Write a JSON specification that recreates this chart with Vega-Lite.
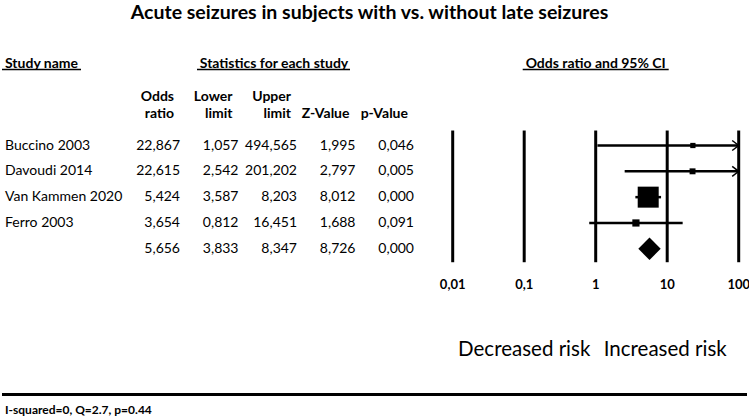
{
  "$schema": "https://vega.github.io/schema/vega-lite/v6.json",
  "width": 749,
  "height": 418,
  "autosize": {"type": "fit", "contains": "padding"},
  "padding": {"top": 2, "left": 0, "right": 0, "bottom": 0},
  "title": {"text": "Acute seizures in subjects with vs. without late seizures", "font": "Lato", "fontSize": 19.5, "fontWeight": "bold", "color": "black", "anchor": "middle", "frame": "group", "dx": -5, "offset": 4},
  "config": {
    "view": {"stroke": null},
    "font": "Lato",
    "locale": {"number": {"decimal": ",", "thousands": ".", "grouping": [3], "currency": ["", ""]}}
  },
  "datasets": {
    "studies": [
      {"study": "Buccino 2003", "kind": "study", "row": 1, "OR": 22.867, "lower": 1.057, "upper": 494.565, "z": 1.995, "p": 0.046, "weight": 1.6},
      {"study": "Davoudi 2014", "kind": "study", "row": 2, "OR": 22.615, "lower": 2.542, "upper": 201.202, "z": 2.797, "p": 0.005, "weight": 3.2},
      {"study": "Van Kammen 2020", "kind": "study", "row": 3, "OR": 5.424, "lower": 3.587, "upper": 8.203, "z": 8.012, "p": 0.0, "weight": 88.5},
      {"study": "Ferro 2003", "kind": "study", "row": 4, "OR": 3.654, "lower": 0.812, "upper": 16.451, "z": 1.688, "p": 0.091, "weight": 6.7},
      {"study": "", "kind": "summary", "row": 5, "OR": 5.656, "lower": 3.833, "upper": 8.347, "z": 8.726, "p": 0.0, "weight": 100}
    ],
    "columns": [
      {"key": "OR", "line1": "Odds", "line2": "ratio"},
      {"key": "lower", "line1": "Lower", "line2": "limit"},
      {"key": "upper", "line1": "Upper", "line2": "limit"},
      {"key": "z", "line1": "", "line2": "Z-Value"},
      {"key": "p", "line1": "", "line2": "p-Value"}
    ],
    "ticks": [{"v": 0.01}, {"v": 0.1}, {"v": 1}, {"v": 10}, {"v": 100}]
  },
  "resolve": {"scale": {"x": "independent"}},
  "layer": [
    {
      "layer": [
        {
          "data": {"name": "studies"},
          "transform": [{"filter": "datum.kind == 'study'"}],
          "mark": {"type": "text", "align": "left", "baseline": "middle", "fontSize": 14, "color": "black"},
          "encoding": {
            "x": {"datum": "Study name", "type": "nominal", "scale": {"type": "point", "domain": ["Study name"], "range": [3, 3], "padding": 0}, "axis": null},
            "y": {"field": "row", "type": "quantitative", "scale": {"domain": [1, 5], "range": [118.5, 221.8]}, "axis": null},
            "text": {"field": "study"}
          }
        },
        {
          "data": {"values": [{"label": "Study name"}]},
          "mark": {"type": "text", "align": "left", "baseline": "middle", "fontSize": 14, "fontWeight": "bold", "color": "black"},
          "encoding": {
            "x": {"datum": "Study name", "type": "nominal"},
            "y": {"datum": -2.175, "type": "quantitative", "scale": {"domain": [1, 5], "range": [118.5, 221.8]}, "axis": null},
            "text": {"field": "label"}
          }
        },
        {
          "data": {"values": [{"label": "Study name"}]},
          "mark": {"type": "rule", "strokeWidth": 1.5, "color": "black", "xOffset": -3, "x2Offset": 76},
          "encoding": {
            "x": {"datum": "Study name", "type": "nominal"},
            "x2": {"datum": "Study name"},
            "y": {"datum": -1.943, "type": "quantitative", "scale": {"domain": [1, 5], "range": [118.5, 221.8]}, "axis": null}
          }
        },
        {
          "data": {"values": [{"label": "I-squared=0, Q=2.7, p=0.44"}]},
          "mark": {"type": "text", "align": "left", "baseline": "middle", "fontSize": 12, "fontWeight": "bold", "color": "black"},
          "encoding": {
            "x": {"datum": "Study name", "type": "nominal"},
            "y": {"datum": 11.26, "type": "quantitative", "scale": {"domain": [1, 5], "range": [118.5, 221.8]}, "axis": null},
            "text": {"field": "label"}
          }
        }
      ]
    },
    {
      "layer": [
        {
          "data": {"name": "studies"},
          "transform": [{"fold": ["OR", "lower", "upper", "z", "p"], "as": ["key", "value"]}],
          "mark": {"type": "text", "align": "right", "baseline": "middle", "fontSize": 14, "color": "black"},
          "encoding": {
            "x": {"field": "key", "type": "nominal", "scale": {"type": "point", "domain": ["OR", "lower", "upper", "z", "p"], "range": [178, 412], "padding": 0}, "axis": null},
            "y": {"field": "row", "type": "quantitative", "scale": {"domain": [1, 5], "range": [118.5, 221.8]}, "axis": null},
            "text": {"field": "value", "type": "quantitative", "format": ".3f"}
          }
        },
        {
          "data": {"name": "columns"},
          "mark": {"type": "text", "align": "right", "baseline": "middle", "fontSize": 14, "fontWeight": "bold", "color": "black", "dx": -6},
          "encoding": {
            "x": {"field": "key", "type": "nominal"},
            "y": {"datum": -0.897, "type": "quantitative", "scale": {"domain": [1, 5], "range": [118.5, 221.8]}, "axis": null},
            "text": {"field": "line1"}
          }
        },
        {
          "data": {"name": "columns"},
          "mark": {"type": "text", "align": "right", "baseline": "middle", "fontSize": 14, "fontWeight": "bold", "color": "black", "dx": -6},
          "encoding": {
            "x": {"field": "key", "type": "nominal"},
            "y": {"datum": -0.239, "type": "quantitative", "scale": {"domain": [1, 5], "range": [118.5, 221.8]}, "axis": null},
            "text": {"field": "line2"}
          }
        },
        {
          "data": {"values": [{"label": "Statistics for each study"}]},
          "mark": {"type": "text", "align": "center", "baseline": "middle", "fontSize": 14, "fontWeight": "bold", "color": "black", "dx": -23},
          "encoding": {
            "x": {"datum": "upper", "type": "nominal"},
            "y": {"datum": -2.175, "type": "quantitative", "scale": {"domain": [1, 5], "range": [118.5, 221.8]}, "axis": null},
            "text": {"field": "label"}
          }
        },
        {
          "data": {"values": [{"label": "Statistics for each study"}]},
          "mark": {"type": "rule", "strokeWidth": 1.5, "color": "black", "xOffset": -100, "x2Offset": 53},
          "encoding": {
            "x": {"datum": "upper", "type": "nominal"},
            "x2": {"datum": "upper"},
            "y": {"datum": -1.943, "type": "quantitative", "scale": {"domain": [1, 5], "range": [118.5, 221.8]}, "axis": null}
          }
        }
      ]
    },
    {
      "layer": [
        {
          "data": {"name": "ticks"},
          "mark": {"type": "rule", "strokeWidth": 3, "color": "black"},
          "encoding": {
            "x": {"field": "v", "type": "quantitative", "scale": {"type": "log", "domain": [0.01, 100], "range": [450.7, 736.7], "clamp": true}, "axis": null},
            "y": {"datum": 0.42, "type": "quantitative", "scale": {"domain": [1, 5], "range": [118.5, 221.8]}, "axis": null},
            "y2": {"datum": 5.52}
          }
        },
        {
          "data": {"name": "ticks"},
          "mark": {"type": "text", "align": "center", "baseline": "middle", "fontSize": 13, "fontWeight": "bold", "color": "black"},
          "encoding": {
            "x": {"field": "v", "type": "quantitative"},
            "y": {"datum": 6.42, "type": "quantitative", "scale": {"domain": [1, 5], "range": [118.5, 221.8]}, "axis": null},
            "text": {"field": "v", "type": "quantitative", "format": "~g"}
          }
        },
        {
          "data": {"name": "studies"},
          "transform": [{"filter": "datum.kind == 'study'"}],
          "mark": {"type": "rule", "strokeWidth": 2.5, "color": "black"},
          "encoding": {
            "x": {"field": "lower", "type": "quantitative"},
            "x2": {"field": "upper"},
            "y": {"field": "row", "type": "quantitative", "scale": {"domain": [1, 5], "range": [118.5, 221.8]}, "axis": null}
          }
        },
        {
          "data": {"name": "studies"},
          "transform": [{"filter": "datum.kind == 'study'"}],
          "mark": {"type": "square", "filled": true, "opacity": 1, "color": "black"},
          "encoding": {
            "x": {"field": "OR", "type": "quantitative"},
            "y": {"field": "row", "type": "quantitative", "scale": {"domain": [1, 5], "range": [118.5, 221.8]}, "axis": null},
            "size": {"field": "weight", "type": "quantitative", "scale": {"domain": [0, 88.5], "range": [20, 441]}, "legend": null}
          }
        },
        {
          "data": {"name": "studies"},
          "transform": [{"filter": "datum.upper > 100"}],
          "mark": {"type": "point", "shape": "M-1.3,-1L0,0L-1.3,1", "filled": false, "size": 100, "stroke": "black", "strokeWidth": 1.5, "opacity": 1},
          "encoding": {
            "x": {"field": "upper", "type": "quantitative"},
            "y": {"field": "row", "type": "quantitative", "scale": {"domain": [1, 5], "range": [118.5, 221.8]}, "axis": null}
          }
        },
        {
          "data": {"name": "studies"},
          "transform": [{"filter": "datum.kind == 'summary'"}],
          "mark": {"type": "point", "shape": "diamond", "filled": true, "size": 500, "color": "black", "opacity": 1},
          "encoding": {
            "x": {"field": "OR", "type": "quantitative"},
            "y": {"field": "row", "type": "quantitative", "scale": {"domain": [1, 5], "range": [118.5, 221.8]}, "axis": null}
          }
        },
        {
          "data": {"values": [{"label": "Odds ratio and 95% CI"}]},
          "mark": {"type": "text", "align": "center", "baseline": "middle", "fontSize": 14, "fontWeight": "bold", "color": "black"},
          "encoding": {
            "x": {"datum": 1, "type": "quantitative"},
            "y": {"datum": -2.175, "type": "quantitative", "scale": {"domain": [1, 5], "range": [118.5, 221.8]}, "axis": null},
            "text": {"field": "label"}
          }
        },
        {
          "data": {"values": [{"label": "Odds ratio and 95% CI"}]},
          "mark": {"type": "rule", "strokeWidth": 1.5, "color": "black", "xOffset": -73, "x2Offset": 73},
          "encoding": {
            "x": {"datum": 1, "type": "quantitative"},
            "x2": {"datum": 1},
            "y": {"datum": -1.943, "type": "quantitative", "scale": {"domain": [1, 5], "range": [118.5, 221.8]}, "axis": null}
          }
        },
        {
          "data": {"values": [{"label": "Decreased risk"}]},
          "mark": {"type": "text", "align": "center", "baseline": "middle", "fontSize": 20.5, "color": "black"},
          "encoding": {
            "x": {"datum": 0.1, "type": "quantitative"},
            "y": {"datum": 8.9, "type": "quantitative", "scale": {"domain": [1, 5], "range": [118.5, 221.8]}, "axis": null},
            "text": {"field": "label"}
          }
        },
        {
          "data": {"values": [{"label": "Increased risk"}]},
          "mark": {"type": "text", "align": "center", "baseline": "middle", "fontSize": 20.5, "color": "black", "dx": -2},
          "encoding": {
            "x": {"datum": 10, "type": "quantitative"},
            "y": {"datum": 8.9, "type": "quantitative", "scale": {"domain": [1, 5], "range": [118.5, 221.8]}, "axis": null},
            "text": {"field": "label"}
          }
        }
      ]
    },
    {
      "data": {"values": [{"label": "footer"}]},
      "mark": {"type": "rule", "strokeWidth": 3, "color": "black"},
      "encoding": {
        "y": {"datum": 10.64, "type": "quantitative", "scale": {"domain": [1, 5], "range": [118.5, 221.8]}, "axis": null}
      }
    }
  ]
}
